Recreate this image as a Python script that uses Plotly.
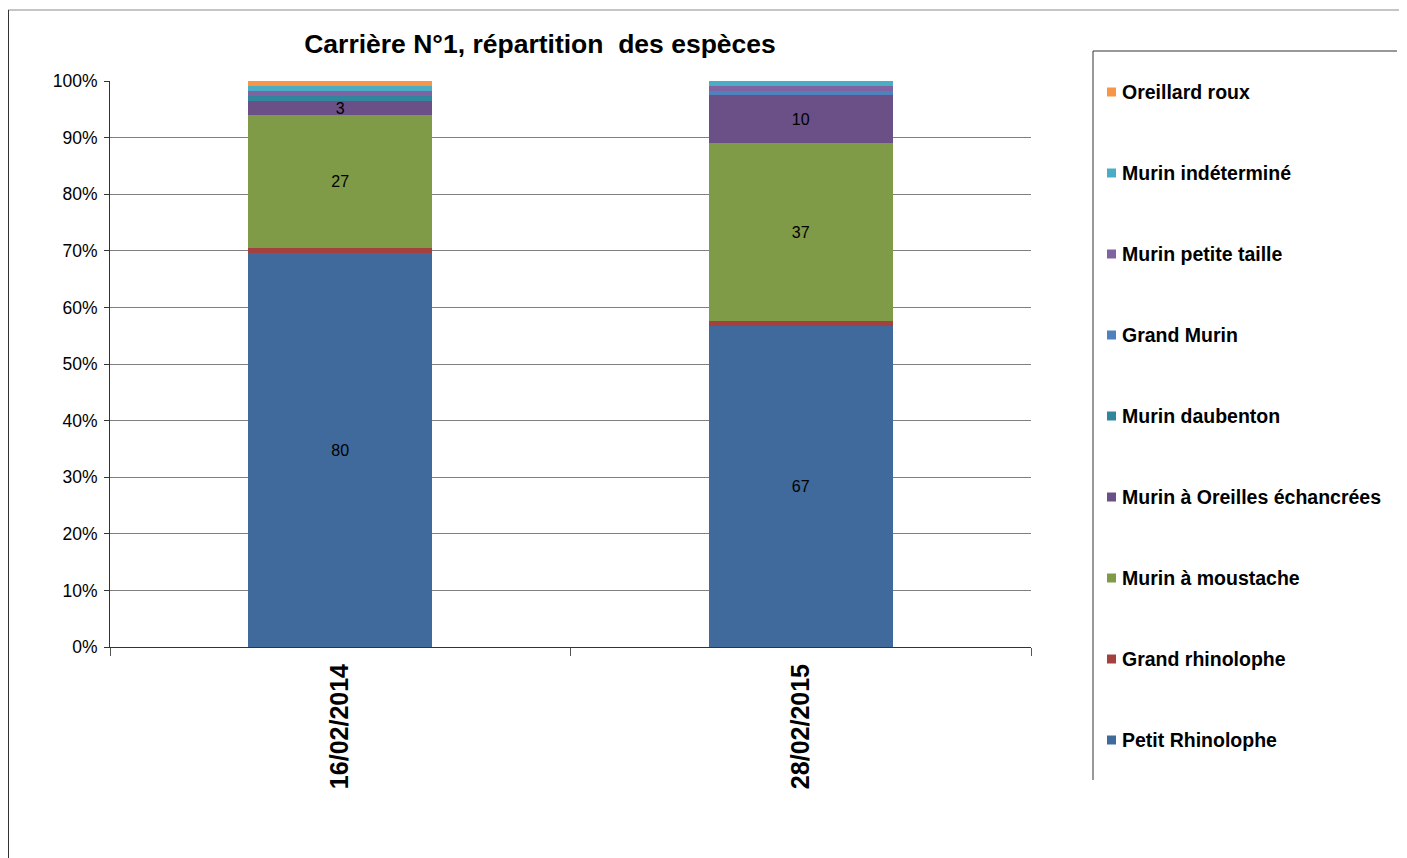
import plotly.graph_objects as go

dates = ["16/02/2014", "28/02/2015"]
species = ["Petit Rhinolophe", "Grand rhinolophe", "Murin à moustache",
           "Murin à Oreilles échancrées", "Murin daubenton", "Grand Murin",
           "Murin petite taille", "Murin indéterminé", "Oreillard roux"]
counts = {
    "Petit Rhinolophe": [80, 67],
    "Grand rhinolophe": [1, 1],
    "Murin à moustache": [27, 37],
    "Murin à Oreilles échancrées": [3, 10],
    "Murin daubenton": [1, 0],
    "Grand Murin": [0, 1],
    "Murin petite taille": [1, 1],
    "Murin indéterminé": [1, 1],
    "Oreillard roux": [1, 0],
}
colors = ["#3F6A9B", "#A4403D", "#7F9B47", "#6A5087", "#31869E",
          "#4F81BD", "#8064A2", "#4BACC6", "#F79646"]
labelled = {"Petit Rhinolophe", "Murin à moustache", "Murin à Oreilles échancrées"}

FONT = "Liberation Sans, Arial"
fig = go.Figure()
for sp, col in zip(species, colors):
    vals = counts[sp]
    txt = [str(v) if sp in labelled else "" for v in vals]
    fig.add_trace(go.Bar(
        x=dates, y=vals, name=sp, marker=dict(color=col, line=dict(width=0)),
        text=txt, textposition="inside", insidetextanchor="middle", textangle=0,
        textfont=dict(color="black", size=16, family=FONT),
        hoverinfo="name+y", showlegend=False,
    ))

OFF = 8  # page body margin
L, R, T, B = 110, 1031, 81, 647  # plot area in page pixels
W, H = 1407, 858
pw, ph = R - L, B - T
def px(x): return (x - L) / pw
def py(y): return (B - y) / ph

shapes = [
    dict(type="line", xref="paper", yref="paper", x0=px(8), x1=px(1415), y0=py(10), y1=py(10),
         line=dict(color="#8A8A8A", width=1)),
    dict(type="line", xref="paper", yref="paper", x0=px(8.5), x1=px(8.5), y0=py(10), y1=py(866),
         line=dict(color="#333333", width=1)),
    dict(type="line", xref="paper", yref="paper", x0=px(1093), x1=px(1397), y0=py(51), y1=py(51),
         line=dict(color="#333333", width=1)),
    dict(type="line", xref="paper", yref="paper", x0=px(1093), x1=px(1093), y0=py(51), y1=py(780),
         line=dict(color="#333333", width=1)),
]
annotations = []
# manual legend, top to bottom in reverse stacking order
for i, (sp, col) in enumerate(zip(reversed(species), reversed(colors))):
    yc = 92 + 81 * i
    shapes.append(dict(type="rect", xref="paper", yref="paper",
                       x0=px(1107), x1=px(1116), y0=py(yc + 4.5), y1=py(yc - 4.5),
                       fillcolor=col, line=dict(width=0)))
    annotations.append(dict(xref="paper", yref="paper", x=px(1120), y=py(yc),
                            xanchor="left", yanchor="middle", showarrow=False,
                            text="<b>" + sp + "</b>",
                            font=dict(size=19.5, family=FONT, color="black")))

fig.update_layout(
    width=W, height=H,
    margin=dict(l=L - OFF, r=W - (R - OFF), t=T - OFF, b=H - (B - OFF), pad=0),
    barmode="stack", barnorm="percent", bargap=0.6,
    paper_bgcolor="white", plot_bgcolor="white",
    font=dict(family=FONT, color="black", size=16),
    title=dict(text="<b>Carrière N°1, répartition  des espèces</b>", x=(540 - OFF) / W,
               xanchor="center", y=1 - (44 - OFF) / H, yanchor="middle",
               font=dict(size=26.5, family=FONT)),
    uniformtext=dict(minsize=16, mode="show"),
    showlegend=False,
    shapes=shapes, annotations=annotations,
    xaxis=dict(type="category", showline=True, linecolor="#333333", ticks="outside",
               tickson="boundaries", ticklen=8, tickcolor="#555555", tickangle=-90,
               tickfont=dict(size=25, family=FONT), ticklabelstandoff=6,
               tickprefix="<b>", ticksuffix="</b>", showgrid=False),
    yaxis=dict(range=[0, 100], dtick=10, ticksuffix="%", showline=True, linecolor="#333333",
               ticks="outside", ticklen=5, tickcolor="#333333", showgrid=True,
               gridcolor="#808080", gridwidth=1, tickfont=dict(size=17.5), zeroline=False,
               ticklabelstandoff=3),
)
fig.write_html("out.html")
